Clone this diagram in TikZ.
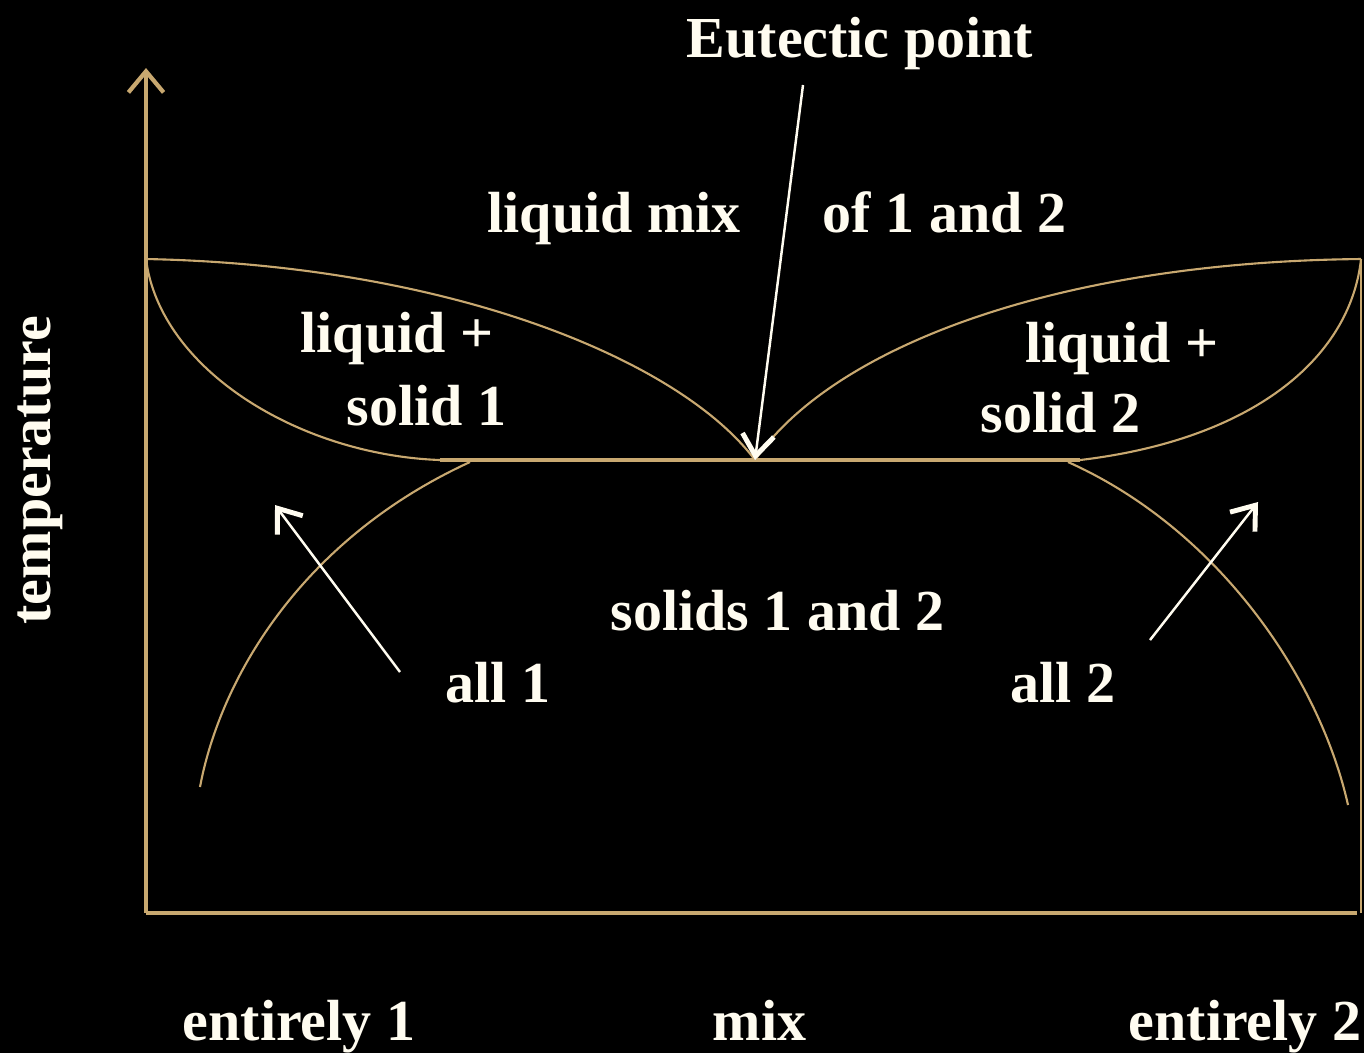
\documentclass[tikz,border=0pt]{standalone}
\usepackage{fontspec}
\setmainfont{Liberation Serif}
\usetikzlibrary{arrows.meta}
\definecolor{goldline}{RGB}{200,168,112}
\definecolor{cream}{RGB}{255,252,240}
\tikzset{
    phaseline/.style={draw=goldline, line width=0.6pt},
    axisline/.style={draw=goldline, line width=0.9pt},
    lbl/.style={text=cream, font=\bfseries\fontsize{16.5}{20}\selectfont, inner sep=0pt, anchor=base west},
    pointer/.style={draw=cream, line width=0.7pt,
    -{Straight Barb[length=6pt,width=9pt,line width=1.4pt]}}
}

\begin{document}
\begin{tikzpicture}[x=0.01cm, y=-0.01cm]
    \fill[black] (0,0) rectangle (1364,1053);
    \useasboundingbox (0,0) rectangle (1364,1053);

    \coordinate (origin) at (146,913);
    \coordinate (ytip) at (146,68);
    \coordinate (xend) at (1357,913);
    \coordinate (pureA) at (146,259);
    \coordinate (pureB) at (1361,259);
    \coordinate (eut) at (755,460);
    \coordinate (lensA) at (440,460);
    \coordinate (lensB) at (1080,460);
    \coordinate (solvA) at (470,462);
    \coordinate (solvB) at (1068,462);
    \coordinate (endA) at (200,787);
    \coordinate (endB) at (1348,805);

    % axes
    \draw[axisline, -{Straight Barb[length=6pt,width=10pt,line width=1.2pt]}] (origin) -- (ytip);
    \draw[axisline] (origin) -- (xend);
    \draw[phaseline] (pureB) -- (pureB |- origin);

    % liquidus, lens bottoms and eutectic line
    \draw[phaseline] (pureA) .. controls (450,265) and (680,360) .. (eut);
    \draw[phaseline] (eut) .. controls (830,350) and (1050,262) .. (pureB);
    \draw[phaseline] (pureA) .. controls (160,370) and (300,455) .. (lensA);
    \draw[phaseline] (pureB) .. controls (1350,360) and (1250,440) .. (lensB);
    \draw[axisline] (lensA) -- (lensB);

    % solvus
    \draw[phaseline] (solvA) .. controls (300,540) and (220,680) .. (endA);
    \draw[phaseline] (solvB) .. controls (1220,530) and (1320,680) .. (endB);

    \node[lbl] (eutlbl) at (686,57) {Eutectic point};
    \node[lbl] (liqA) at (487,232) {liquid mix};
    \node[lbl] (liqB) at (822,232) {of 1 and 2};
    \node[lbl] (lsA1) at (300,352) {liquid +};
    \node[lbl] (lsA2) at (346,425) {solid 1};
    \node[lbl] (lsB1) at (1025,362) {liquid +};
    \node[lbl] (lsB2) at (980,432) {solid 2};
    \node[lbl] (solids) at (610,630) {solids 1 and 2};
    \node[lbl] (allA) at (445,702) {all 1};
    \node[lbl] (allB) at (1010,702) {all 2};
    \node[lbl] (entA) at (182,1040) {entirely 1};
    \node[lbl] (mix) at (712,1040) {mix};
    \node[lbl] (entB) at (1128,1040) {entirely 2};
    \node[lbl, rotate=90] (temp) at (50,625) {temperature};

    \coordinate (eutfrom) at (803,85);
    \coordinate (allAfrom) at (400,672);
    \coordinate (allAto) at (275,505);
    \coordinate (allBfrom) at (1150,640);
    \coordinate (allBto) at (1258,502);
    \draw[pointer] (eutfrom) -- (eut);
    \draw[pointer] (allAfrom) -- (allAto);
    \draw[pointer] (allBfrom) -- (allBto);
\end{tikzpicture}
\end{document}
